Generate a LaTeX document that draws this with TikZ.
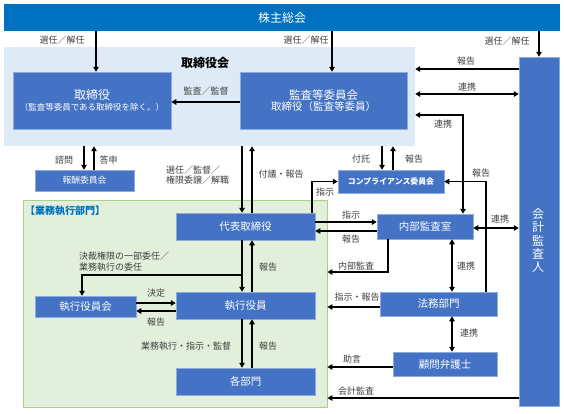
\documentclass[tikz,border=0pt]{standalone}
\usepackage{fontspec}
\setmainfont{Noto Sans CJK JP}
\usetikzlibrary{arrows.meta,calc}
\definecolor{topblue}{HTML}{0070C0}
\definecolor{boxblue}{HTML}{4472C4}
\definecolor{boxedge}{HTML}{8FAADC}
\definecolor{lightblue}{HTML}{DEEBF7}
\definecolor{lightgreen}{HTML}{E2EFDA}
\definecolor{greenedge}{HTML}{A9D18E}
\definecolor{labelgray}{HTML}{404040}
\begin{document}
\begin{tikzpicture}[x=1pt,y=-1pt,
 box/.style={draw=boxedge, line width=0.5pt, fill=boxblue, text=white, inner sep=0pt, font=\fontsize{10.5}{12}\selectfont, align=center},
 lbl/.style={text=labelgray, font=\fontsize{9}{10.8}\selectfont, inner sep=0pt, align=left},
 arr/.style={line width=1.3pt, -{Triangle[length=5pt,width=5.5pt]}},
 darr/.style={line width=1.3pt, {Triangle[length=5pt,width=5.5pt]}-{Triangle[length=5pt,width=5.5pt]}},
]
\useasboundingbox (0,0) rectangle (564,413);
\fill[white] (0,0) rectangle (564,413);
% regions
\node[fill=lightblue, inner sep=0pt, minimum width=411pt, minimum height=99pt] (board) at (209.5,96.5) {};
\node[fill=lightgreen, draw=greenedge, line width=0.8pt, inner sep=0pt, minimum width=304pt, minimum height=207pt] (green) at (175,303.5) {};
\node[font=\fontsize{12}{14}\selectfont\bfseries, inner sep=0pt] (boardt) at (205,63) {取締役会};
\node[font=\fontsize{10}{12}\selectfont\bfseries, text=topblue, inner sep=0pt, anchor=west] (greent) at (25,210.5) {【業務執行部門】};
% boxes
\node[fill=topblue, text=white, inner sep=0pt, minimum width=556pt, minimum height=27pt, font=\fontsize{12}{14}\selectfont] (top) at (282,17.5) {株主総会};
\node[box, minimum width=158pt, minimum height=57pt] (tori) at (92,100.5) {\fontsize{12}{14}\selectfont 取締役\\[-1pt]\fontsize{8.5}{10}\selectfont （監査等委員である取締役を除く。）};
\node[box, minimum width=167pt, minimum height=57pt] (kansa) at (323.5,100.5) {\fontsize{11.5}{14}\selectfont 監査等委員会\\[-1pt]\fontsize{10.5}{12}\selectfont 取締役（監査等委員）};
\node[box, minimum width=40pt, minimum height=349pt] (kaikei) at (539,231.5) {};
\node[text=white, font=\fontsize{12}{13.2}\selectfont, align=center, inner sep=0pt] (kaikeit) at (538,240.5) {会\\計\\監\\査\\人};
\node[box, minimum width=99pt, minimum height=21pt, font=\fontsize{8.8}{10}\selectfont] (houshu) at (84.5,180.5) {報酬委員会};
\node[box, minimum width=139pt, minimum height=27pt] (daihyo) at (245.5,226.5) {代表取締役};
\node[box, minimum width=106pt, minimum height=23pt, font=\fontsize{7.9}{9}\selectfont\bfseries] (comp) at (391,181.5) {コンプライアンス委員会};
\node[box, minimum width=96pt, minimum height=25pt] (naibu) at (425,226.5) {内部監査室};
\node[box, minimum width=117pt, minimum height=24pt] (houmu) at (438.5,304) {法務部門};
\node[box, minimum width=104pt, minimum height=24pt] (komon) at (445,364) {顧問弁護士};
\node[box, minimum width=101pt, minimum height=21pt] (shikkokai) at (85.5,306.5) {執行役員会};
\node[box, minimum width=139pt, minimum height=27pt] (shikko) at (245.5,305.5) {執行役員};
\node[box, minimum width=139pt, minimum height=27pt] (kakubu) at (245.5,381.5) {各部門};
% helper coordinates
\foreach \v in {82,84,94,96,242,252,312,332,382,388,393,452,463,486,539}{\coordinate (x\v) at (\v,0);}
\foreach \v in {69,94,102,115,222,228,231,272,275,303,307,311,367,398}{\coordinate (y\v) at (0,\v);}
% connectors
\draw[arr] (top.south -| x96) -- (tori.north -| x96);
\draw[arr] (top.south -| x332) -- (kansa.north -| x332);
\draw[arr] (top.south -| x539) -- (kaikei.north -| x539);
\draw[arr] (kansa.west |- y102) -- (tori.east |- y102);
\draw[arr] (kaikei.west |- y69) -- (board.east |- y69);
\draw[darr] (board.east |- y94) -- (kaikei.west |- y94);
\draw[darr] (board.east |- y115) -| (naibu.north -| x463);
\draw[arr] (board.south -| x84) -- (houshu.north -| x84);
\draw[arr] (houshu.north -| x94) -- (board.south -| x94);
\draw[arr] (board.south -| x242) -- (daihyo.north -| x242);
\draw[arr] (daihyo.north -| x252) -- (board.south -| x252);
\draw[arr] (board.south -| x382) -- (comp.north -| x382);
\draw[arr] (comp.north -| x393) -- (board.south -| x393);
\draw[arr] (daihyo.north -| x312) |- (comp.west);
\draw[arr] (houmu.north -| x486) |- (comp.east);
\draw[arr] (daihyo.east |- y222) -- (naibu.west |- y222);
\draw[arr] (naibu.west |- y231) -- (daihyo.east |- y231);
\draw[darr] (naibu.east |- y228) -- (kaikei.west |- y228);
\draw[arr] (naibu.south -| x388) |- (green.east |- y272);
\draw[darr] (naibu.south -| x452) -- (houmu.north -| x452);
\draw[arr] (houmu.west |- y307) -- (green.east |- y307);
\draw[darr] (houmu.south -| x452) -- (komon.north -| x452);
\draw[arr] (komon.west |- y367) -- (green.east |- y367);
\draw[arr] (kaikei.west |- y398) -- (green.east |- y398);
\draw[arr] (daihyo.south -| x242) -- (shikko.north -| x242);
\draw[arr] (daihyo.south -| x242) |- (x82 |- y275) -- (shikkokai.north -| x82);
\draw[arr] (shikko.north -| x252) -- (daihyo.south -| x252);
\draw[arr] (shikkokai.east |- y303) -- (shikko.west |- y303);
\draw[arr] (shikko.west |- y311) -- (shikkokai.east |- y311);
\draw[arr] (shikko.south -| x242) -- (kakubu.north -| x242);
\draw[arr] (kakubu.north -| x252) -- (shikko.south -| x252);
% labels
\node[lbl] (l1) at (62,40) {選任／解任};
\node[lbl] (l2) at (306,40) {選任／解任};
\node[lbl] (l3) at (507,41) {選任／解任};
\node[lbl] (l4) at (206,91) {監査／監督};
\node[lbl] (l5) at (466,61) {報告};
\node[lbl] (l6) at (467,87) {連携};
\node[lbl] (l7) at (443,124) {連携};
\node[lbl] (l8) at (64,160) {諮問};
\node[lbl] (l9) at (108.5,160) {答申};
\node[lbl, anchor=west] (l10) at (166,175) {選任／監督／\\権限委譲／解職};
\node[lbl] (l11) at (281,174.5) {付議・報告};
\node[lbl] (l12) at (361,159) {付託};
\node[lbl] (l13) at (414,159) {報告};
\node[lbl] (l14) at (325,192) {指示};
\node[lbl] (l15) at (481,173) {報告};
\node[lbl] (l16) at (351,215) {指示};
\node[lbl] (l17) at (351,239) {報告};
\node[lbl] (l18) at (500,219) {連携};
\node[lbl] (l19) at (356,266) {内部監査};
\node[lbl] (l20) at (466,266) {連携};
\node[lbl] (l21) at (357,297) {指示・報告};
\node[lbl] (l22) at (469,333) {連携};
\node[lbl] (l23) at (352,359) {助言};
\node[lbl] (l24) at (356,391) {会計監査};
\node[lbl, anchor=west] (l25) at (79,262) {決裁権限の一部委任／\\業務執行の委任};
\node[lbl] (l26) at (268,267) {報告};
\node[lbl] (l27) at (156,293) {決定};
\node[lbl] (l28) at (156,322) {報告};
\node[lbl] (l29) at (186,346) {業務執行・指示・監督};
\node[lbl] (l30) at (268,346) {報告};
\end{tikzpicture}
\end{document}
